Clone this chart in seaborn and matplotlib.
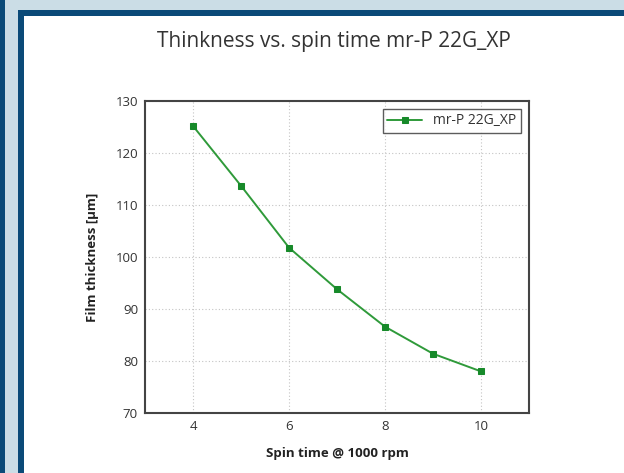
import matplotlib
matplotlib.use("Agg")
import matplotlib.pyplot as plt
import seaborn as sns
import pandas as pd
from matplotlib.patches import Rectangle

spin_time = [4, 5, 6, 7, 8, 9, 10]
thickness = [125.2, 113.7, 101.8, 93.8, 86.6, 81.4, 78.0]
series_name = "mr-P 22G_XP"
x_ticks = [4, 6, 8, 10]
y_ticks = [70, 80, 90, 100, 110, 120, 130]

df = pd.DataFrame({"Spin time": spin_time, "Thickness": thickness, "series": series_name})

sns.set_style("white")
plt.rcParams["font.family"] = ["Open Sans", "DejaVu Sans"]

W, H = 624, 473
fig = plt.figure(figsize=(W / 100, H / 100), dpi=100)
fig.patch.set_facecolor("white")

def band(x0, y0, w, h, color):
    fig.patches.append(Rectangle((x0 / W, 1 - (y0 + h) / H), w / W, h / H,
                                 transform=fig.transFigure, facecolor=color,
                                 edgecolor="none", zorder=0))

band(0, 0, W, 10, "#cbdde6")
band(0, 10, W, 6, "#0b4a78")
band(0, 0, 24, H, "#cbdde6")
band(0, 0, 5, H, "#0b4a78")
band(18, 10, 6, H, "#0b4a78")

ax = fig.add_axes([145 / W, 1 - 413 / H, (529 - 145) / W, (413 - 101) / H])
green = "#2f9a3a"
sns.lineplot(data=df, x="Spin time", y="Thickness", hue="series", palette=[green],
             marker="s", markersize=5, markerfacecolor="#178a2a", markeredgecolor="#178a2a",
             linewidth=1.4, ax=ax)

ax.set_xlim(3, 11)
ax.set_ylim(70, 130)
ax.set_xticks(x_ticks)
ax.set_yticks(y_ticks)
ax.grid(True, linestyle=(0, (1, 2)), color="#c4c4c4", linewidth=0.8)
for s in ax.spines.values():
    s.set_visible(True)
    s.set_color("#444444")
    s.set_linewidth(1.5)
ax.tick_params(direction="in", length=4, width=1.2, color="#444444",
               labelsize=9.5, labelcolor="#333333", pad=5)
ax.set_xlabel("Spin time @ 1000 rpm", fontsize=9.5, fontweight="bold", color="#222222", labelpad=10)
ax.set_ylabel("Film thickness [µm]", fontsize=9.5, fontweight="bold", color="#222222", labelpad=12)

leg = ax.legend(loc="upper right", fontsize=10, frameon=True, fancybox=False,
                edgecolor="#333333", borderpad=0.3, handlelength=2.5, borderaxespad=0.6)
leg.get_frame().set_linewidth(1.0)
for t in leg.get_texts():
    t.set_color("#333333")

fig.text(334 / W, 1 - 42 / H, "Thinkness vs. spin time mr-P 22G_XP", ha="center", va="center",
         fontsize=15, color="#333333")

fig.savefig("out.png", dpi=100)
